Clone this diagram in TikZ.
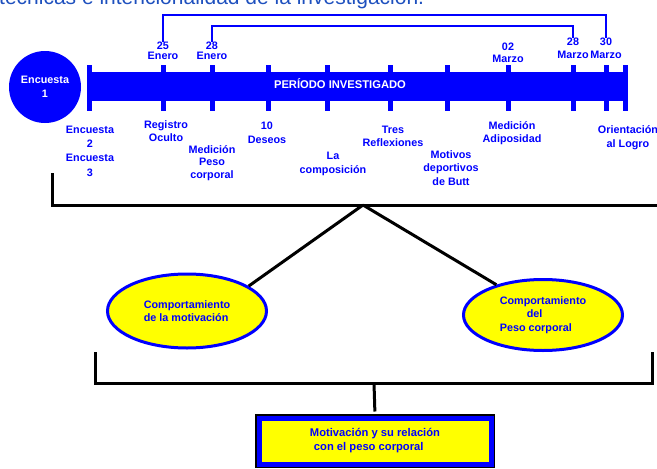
\documentclass[tikz,border=0pt]{standalone}
\usepackage{fontspec}
\setmainfont{Liberation Sans}
\usetikzlibrary{positioning, shapes.geometric}
\definecolor{timeBlue}{HTML}{0000FF}
\definecolor{noteYellow}{HTML}{FFFF00}
\definecolor{titleBlue}{RGB}{30,80,190}

\begin{document}
\begin{tikzpicture}[x=1pt, y=-1pt,
  every node/.style={font=\bfseries\fontsize{10.8}{13.5}\selectfont, text=timeBlue,
              align=center, inner sep=0pt},
  datelbl/.style={font=\bfseries\fontsize{10.8}{10}\selectfont},
  tickbar/.style={rectangle, fill=timeBlue, minimum width=5pt, minimum height=46pt},
  bar/.style={rectangle, fill=timeBlue, minimum width=538pt, minimum height=29pt},
  startdot/.style={circle, fill=timeBlue, minimum size=72pt, text=white},
  oval/.style={ellipse, draw=timeBlue, line width=3pt, fill=noteYellow,
              minimum width=159pt, align=left},
  result/.style={rectangle, preaction={draw=black, line width=8pt},
              draw=timeBlue, line width=5pt, fill=noteYellow,
              minimum width=232pt, minimum height=46pt, align=left,
              font=\bfseries\fontsize{11.2}{14}\selectfont},
  span/.style={draw=timeBlue, line width=2.5pt},
  brace/.style={draw=black, line width=3pt},
]
  \useasboundingbox (0,0) rectangle (657,469);
  \clip (0,0) rectangle (657,469);

  \node[anchor=base west, font=\fontsize{21}{24}\selectfont, text=titleBlue]
        at (-1,4.5) (title) {técnicas e intencionalidad de la investigación.};

  \coordinate (span_out) at (384, 15);
  \coordinate (span_in)  at (392, 26);
  \coordinate (br1_top)  at (52, 173);
  \coordinate (br1_end)  at (657, 205);
  \coordinate (apex)     at (363, 205);
  \coordinate (br2_l)    at (95, 352);
  \coordinate (br2_r)    at (652, 352);
  \coordinate (br2_mid)  at (374, 383);

  % time line
  \node[bar] at (356, 86.5) (period) {};
  \foreach \tx [count=\i] in {89.5,163,212,268,327,390,447,508,573,606,625.5}
    \node[tickbar] at (\tx, 88) (tick\i) {};
  \node[text=white, font=\bfseries\fontsize{11.2}{13}\selectfont] at (340, 84) (periodlbl)
        {PERÍODO INVESTIGADO};
  \node[startdot] at (45, 87) (enc1) {Encuesta\\1};

  % dates
  \node[datelbl] at (163, 51) (d25) {25\\Enero};
  \node[datelbl] at (212, 51) (d28) {28\\Enero};
  \node[datelbl, font=\bfseries\fontsize{10.8}{12}\selectfont] at (508, 53) (d02) {02\\Marzo};
  \node[datelbl, font=\bfseries\fontsize{10.8}{13}\selectfont] at (573, 48.5) (m28) {28\\Marzo};
  \node[datelbl, font=\bfseries\fontsize{10.8}{13}\selectfont] at (606, 48.5) (m30) {30\\Marzo};

  \draw[span] (d25.north) |- (span_out) -| (m30.north);
  \draw[span] (d28.north) |- (span_in) -| (m28.north);

  % instruments
  \node[font=\bfseries\fontsize{10.8}{14.3}\selectfont] at (90, 151) (enc23) {Encuesta\\2\\Encuesta\\3};
  \node at (166, 131) (reg) {Registro\\Oculto};
  \node[font=\bfseries\fontsize{10.8}{12.5}\selectfont] at (212, 163) (medpeso) {Medición\\Peso\\corporal};
  \node at (267, 133) (deseos) {10\\Deseos};
  \node at (333, 164) (compos) {La\\composición};
  \node at (393, 136.5) (tres) {Tres\\Reflexiones};
  \node at (451, 168) (butt) {Motivos\\deportivos\\de Butt};
  \node at (512, 133) (medadip) {Medición\\Adiposidad};
  \node at (628, 137.5) (orient) {Orientación\\al Logro};

  % first bracket
  \draw[brace] (br1_top) |- (br1_end);
  \node[oval, minimum height=74pt] at (187, 311) (ell1) {Comportamiento\\de la motivación};
  \node[oval, minimum height=71pt] at (543, 315) (ell2)
        {Comportamiento\\\hspace*{27pt}del\\Peso corporal};
  \draw[brace] (apex) -- (ell1.22);
  \draw[brace] (apex) -- (ell2.147);

  % second bracket
  \node[result] at (375, 441) (res) {Motivación y su relación\\\hspace*{4pt}con el peso corporal};
  \draw[brace] (br2_l) |- (br2_mid) -| (br2_r);
  \draw[brace, shorten >=4pt] (br2_mid) -- (res.north);
\end{tikzpicture}
\end{document}
